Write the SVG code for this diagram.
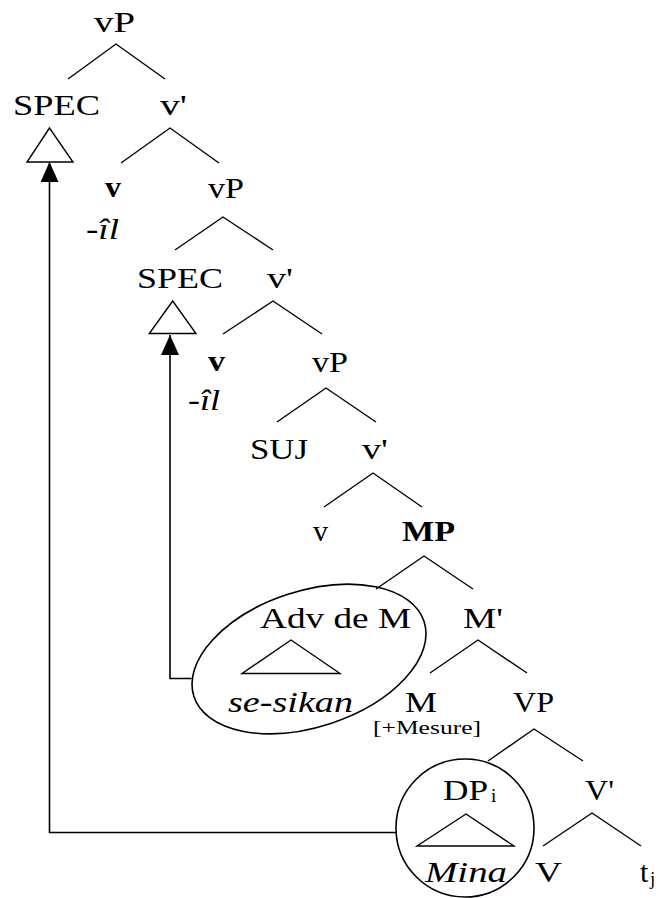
<svg xmlns="http://www.w3.org/2000/svg" width="656" height="898" viewBox="0 0 656 898">
<style>
text { font-family: "Liberation Serif", "Times New Roman", serif; font-size: 30px; fill: #000; }
.b { font-weight: bold; }
.i { font-style: italic; }
.s { font-size: 19px; }
.br { fill: none; stroke: #000; stroke-width: 1.4; }
.tri { fill: #fff; stroke: #000; stroke-width: 1.4; }
.mv { fill: none; stroke: #000; stroke-width: 1.6; }
.ring { fill: none; stroke: #000; stroke-width: 1.6; }
</style>
<defs>
<marker id="ah" viewBox="0 0 20 18" refX="20" refY="9" markerWidth="20" markerHeight="18" markerUnits="userSpaceOnUse" orient="auto">
<path d="M0,0 L20,9 L0,18 Z" fill="#000"/>
</marker>
</defs>
<rect width="656" height="898" fill="#fff"/>

<g id="connectors">
<polyline class="br" points="68,79 116,44 165,79"/>
<polyline class="br" points="121,163 170,128 219,163"/>
<polyline class="br" points="175,250 223,217 273,250"/>
<polyline class="br" points="223,334 273,301 322,334"/>
<polyline class="br" points="277,422 326,388 376,422"/>
<polyline class="br" points="324,507 373,473 422,507"/>
<polyline class="br" points="376,589 424,556 473,589"/>
<polyline class="br" points="430,673 478,640 527,673"/>
<polyline class="br" points="488,761 534,729 583,761"/>
<polyline class="br" points="543,846 592,813 641,846"/>
<polyline class="mv" points="396,832.5 49.5,832.5 49.5,162" marker-end="url(#ah)"/>
<polyline class="mv" points="191.5,678.5 170,678.5 170,335" marker-end="url(#ah)"/>
</g>

<g id="n-vP1"><text x="94" y="32" textLength="41" lengthAdjust="spacingAndGlyphs">vP</text></g>
<g id="n-SPEC1">
<text x="13" y="115" textLength="87" lengthAdjust="spacingAndGlyphs">SPEC</text>
<polygon class="tri" points="49.5,128 27,162 73,162"/>
</g>
<g id="n-v1p"><text x="160" y="115" textLength="27" lengthAdjust="spacingAndGlyphs">v'</text></g>
<g id="n-v1"><text class="b" x="105" y="197" textLength="16" lengthAdjust="spacingAndGlyphs">v</text></g>
<g id="n-il1"><text class="i" x="86" y="239" textLength="33" lengthAdjust="spacingAndGlyphs">-îl</text></g>
<g id="n-vP2"><text x="208" y="198" textLength="36" lengthAdjust="spacingAndGlyphs">vP</text></g>
<g id="n-SPEC2">
<text x="137" y="288" textLength="86" lengthAdjust="spacingAndGlyphs">SPEC</text>
<polygon class="tri" points="172.7,301 149.3,333.5 196,333.5"/>
</g>
<g id="n-v2p"><text x="267" y="288" textLength="26" lengthAdjust="spacingAndGlyphs">v'</text></g>
<g id="n-v2"><text class="b" x="208" y="371" textLength="17" lengthAdjust="spacingAndGlyphs">v</text></g>
<g id="n-il2"><text class="i" x="188" y="410" textLength="32" lengthAdjust="spacingAndGlyphs">-îl</text></g>
<g id="n-vP3"><text x="312" y="372" textLength="36" lengthAdjust="spacingAndGlyphs">vP</text></g>
<g id="n-SUJ"><text x="250" y="459" textLength="58" lengthAdjust="spacingAndGlyphs">SUJ</text></g>
<g id="n-v3p"><text x="362" y="459" textLength="26" lengthAdjust="spacingAndGlyphs">v'</text></g>
<g id="n-v3"><text x="313" y="541" textLength="15" lengthAdjust="spacingAndGlyphs">v</text></g>
<g id="n-MP"><text class="b" x="402" y="541" textLength="53" lengthAdjust="spacingAndGlyphs">MP</text></g>
<g id="n-AdvM">
<ellipse class="ring" cx="309" cy="659" rx="121" ry="68" transform="rotate(-18 309 659)"/>
<text x="260" y="628" textLength="151" lengthAdjust="spacingAndGlyphs">Adv de M</text>
<polygon class="tri" points="291,640 242,673.5 340,673.5"/>
<text class="i" x="228" y="712" textLength="125" lengthAdjust="spacingAndGlyphs">se-sikan</text>
</g>
<g id="n-Mp"><text x="463" y="628" textLength="40" lengthAdjust="spacingAndGlyphs">M'</text></g>
<g id="n-M">
<text x="405" y="712" textLength="32" lengthAdjust="spacingAndGlyphs">M</text>
<text class="s" x="373" y="734" textLength="108" lengthAdjust="spacingAndGlyphs">[+Mesure]</text>
</g>
<g id="n-VP"><text x="513" y="712" textLength="41" lengthAdjust="spacingAndGlyphs">VP</text></g>
<g id="n-DP">
<circle class="ring" cx="465" cy="828" r="69"/>
<text x="443" y="800" textLength="45" lengthAdjust="spacingAndGlyphs">DP</text>
<text class="s" x="491" y="802">i</text>
<polygon class="tri" points="466,814 417,846 514,846"/>
<text class="i" x="425" y="882" textLength="82" lengthAdjust="spacingAndGlyphs">Mina</text>
</g>
<g id="n-Vp"><text x="585" y="800" textLength="29" lengthAdjust="spacingAndGlyphs">V'</text></g>
<g id="n-V"><text x="535" y="882" textLength="27" lengthAdjust="spacingAndGlyphs">V</text></g>
<g id="n-t">
<text x="640" y="882">t</text>
<text class="s" x="650" y="885">j</text>
</g>
</svg>
